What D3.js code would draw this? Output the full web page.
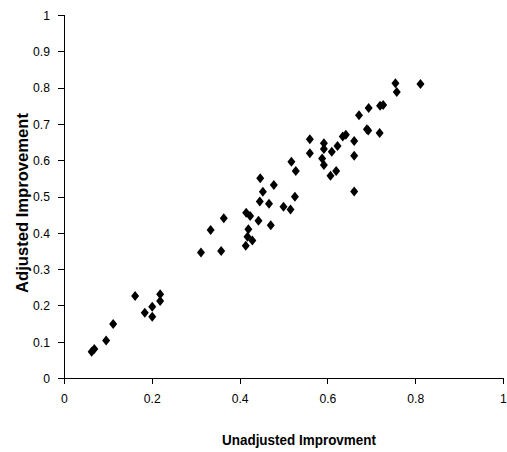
<!DOCTYPE html>
<html><head><meta charset="utf-8">
<script src="https://cdn.jsdelivr.net/npm/d3@7"></script>
<style>body{margin:0;background:#fff}svg{display:block}text{font-family:"Liberation Sans",Arial,sans-serif}</style>
</head><body>
<script>
const unadjusted = [0.063,0.069,0.096,0.112,0.162,0.184,0.201,0.201,0.219,0.219,
 0.312,0.358,0.334,0.364,0.447,0.478,0.453,0.446,0.467,0.415,0.424,0.443,0.471,0.420,0.418,0.429,0.414,
 0.500,0.516,0.526,0.518,0.528,0.588,0.592,0.607,0.620,0.661,
 0.755,0.758,0.812,0.720,0.727,0.694,0.672,0.690,0.693,0.719,0.635,0.642,0.661,0.560,0.592,0.592,0.623,0.610,0.560,0.661];
const adjusted = [0.072,0.080,0.103,0.149,0.226,0.180,0.196,0.169,0.231,0.212,
 0.346,0.350,0.408,0.440,0.550,0.532,0.513,0.486,0.480,0.455,0.446,0.433,0.421,0.410,0.389,0.379,0.364,
 0.472,0.464,0.499,0.596,0.570,0.605,0.587,0.557,0.570,0.514,
 0.812,0.788,0.810,0.750,0.752,0.744,0.724,0.685,0.682,0.675,0.665,0.670,0.653,0.658,0.647,0.631,0.639,0.623,0.619,0.612];
const xTicks = [0,0.2,0.4,0.6,0.8,1];
const yTicks = [0,0.1,0.2,0.3,0.4,0.5,0.6,0.7,0.8,0.9,1];
const xTitle = "Unadjusted Improvment";
const yTitle = "Adjusted Improvement";

const W=507,H=452;
const svg=d3.select("body").append("svg").attr("width",W).attr("height",H);
const x=d3.scaleLinear().domain([0,1]).range([64,503]);
const y=d3.scaleLinear().domain([0,1]).range([378,15]);
const fmt=d=> (d===0||d===1)? String(d) : d.toFixed(1);

const xa=svg.append("g").attr("transform","translate(0,378)")
 .call(d3.axisBottom(x).tickValues(xTicks).tickFormat(fmt).tickSizeOuter(0).tickSize(6).tickPadding(9));
const ya=svg.append("g").attr("transform","translate(64,0)")
 .call(d3.axisLeft(y).tickValues(yTicks).tickFormat(fmt).tickSizeOuter(0).tickSize(6).tickPadding(8));
[xa,ya].forEach(g=>{g.selectAll("path,line").attr("stroke","#000").attr("shape-rendering","crispEdges");
 g.selectAll("text").attr("font-size",13.5).attr("fill","#000").attr("font-family","Liberation Sans, Arial, sans-serif");
 g.selectAll(".tick text").attr("textLength",function(){return this.getComputedTextLength()*0.9;}).attr("lengthAdjust","spacingAndGlyphs");});

const diamond="M0,-5L4,0L0,5L-4,0Z";
svg.append("g").selectAll("path").data(unadjusted).join("path")
 .attr("d",diamond).attr("fill","#000")
 .attr("transform",(d,i)=>`translate(${x(d)},${y(adjusted[i])})`);

svg.append("text").attr("x",299).attr("y",445).attr("text-anchor","middle")
 .attr("font-size",15).attr("font-weight","bold").attr("textLength",154).attr("lengthAdjust","spacingAndGlyphs").text(xTitle);
svg.append("text").attr("transform","translate(28,203) rotate(-90)").attr("text-anchor","middle")
 .attr("font-size",16).attr("font-weight","bold").attr("textLength",180).attr("lengthAdjust","spacingAndGlyphs").text(yTitle);
</script>
</body></html>
